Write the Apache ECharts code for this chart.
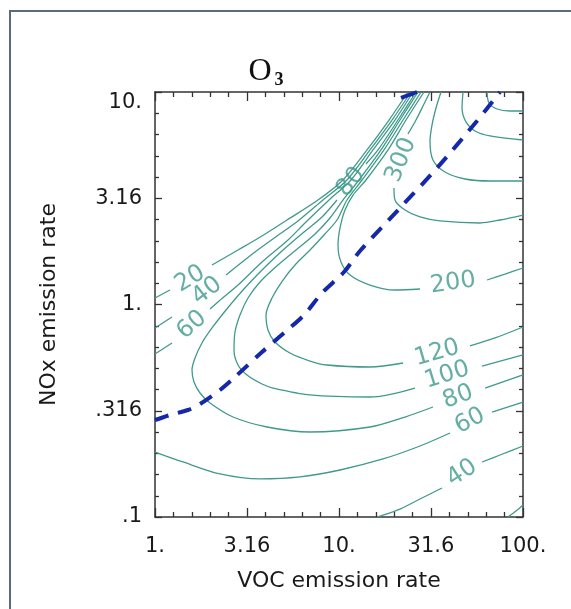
<!DOCTYPE html>
<html><head><meta charset="utf-8">
<script src="https://cdn.jsdelivr.net/npm/echarts@6/dist/echarts.min.js"></script>
<style>html,body{margin:0;padding:0;background:#fff}#c{width:571px;height:609px}</style>
</head><body><div id="c"></div>
<script>
// ---- data (VOC emission rate, NOx emission rate) ----
const xTickLabels = ['1.', '3.16', '10.', '31.6', '100.'];
const yTickLabels = ['.1', '.316', '1.', '3.16', '10.'];

// each contour = list of line pieces (gaps where the level label sits)
const c20 = [
  [[1.00,1.073],[1.206,1.170]],
  [[2.041,1.534],[2.826,1.805],[3.816,2.101],[5.217,2.498],[7.689,3.102],[10.51,3.854],[14.20,5.336],[18.70,7.382],[23.71,10]],
  [[82.89,0.1],[91.62,0.1067],[100,0.1139]]
];
const c40 = [
  [[1.00,0.7753],[1.237,0.8735]],
  [[2.432,1.377],[3.495,1.766],[4.603,2.101],[5.987,2.472],[8.185,3.102],[11.05,3.854],[14.74,5.336],[19.41,7.382],[24.62,10]],
  [[16.09,0.1],[21.45,0.1090],[27.55,0.1215],[36.29,0.1369]],
  [[59.87,0.1815],[74.99,0.1958],[100,0.2158]]
];
const c60 = [
  [[1.00,0.5848],[1.237,0.6590]],
  [[1.991,0.9524],[2.228,1.039],[2.826,1.235],[3.816,1.585],[5.284,2.012],[6.618,2.445],[8.825,3.102],[11.62,3.854],[15.30,5.336],[20.15,7.382],[25.25,10]],
  [[1.00,0.2022],[1.420,0.1815],[2.256,0.1594],[3.722,0.1510],[6.138,0.1543],[10.13,0.1664],[17.34,0.1875],[27.55,0.2158],[40.11,0.2485]],
  [[67.86,0.3119],[100,0.3476]]
];
const c80 = [
  [[26.21,10],[20.92,7.382],[16.29,5.336],[14.02,4.584]],
  [[9.752,3.102],[8.084,2.581],[6.453,2.193],[4.963,1.805],[3.816,1.453],[3.008,1.170],[2.432,0.9421],[2.041,0.7753],[1.800,0.6590],[1.650,0.5600],[1.589,0.4917],[1.629,0.4318],[1.756,0.3833],[1.991,0.3439],[2.654,0.2955],[4.061,0.2652],[6.957,0.2512],[14.74,0.2652],[22.84,0.2955],[32.42,0.3293]],
  [[62.17,0.4045],[100,0.4659]]
];
const c100 = [
  [[26.87,10],[21.45,7.382],[16.91,5.336],[12.84,3.854],[10.51,3.102],[8.935,2.554],[7.313,2.123],[5.839,1.805],[4.663,1.534],[3.722,1.276],[3.202,1.073],[2.897,0.8925],[2.721,0.7424],[2.688,0.6108],[2.826,0.5191],[3.162,0.4659],[3.816,0.4225],[4.380,0.4045],[6.957,0.3752],[14.74,0.3670],[25.88,0.4045]],
  [[59.87,0.5135],[100,0.5786]]
];
const c120 = [
  [[27.91,10],[22.28,7.382],[17.56,5.336],[13.34,3.854],[11.05,3.102],[9.752,2.498],[8.288,2.123],[6.957,1.805],[5.767,1.534],[4.963,1.304],[4.325,1.073],[4.011,0.8925],[4.113,0.7586],[4.489,0.6662],[5.416,0.5912],[6.957,0.5421],[8.608,0.5191],[14.74,0.5080],[22.28,0.5305]],
  [[51.52,0.6379],[70.44,0.6959],[100,0.7837]]
];
const c200 = [
  [[28.97,10],[23.13,7.382],[18.47,5.336],[14.02,3.854],[11.92,3.275],[10.78,2.784],[10.13,2.291],[9.876,1.905],[10.25,1.585],[11.48,1.377],[14.74,1.235],[20.15,1.170],[27.55,1.183]],
  [[63.74,1.304],[79.83,1.391],[100,1.485]]
];
const c300 = [
  [[31.23,10],[28.97,8.781],[26.21,7.382],[23.71,6.345]],
  [[19.90,3.534],[20.15,3.102],[22.84,2.784],[27.55,2.581],[35.39,2.472],[58.39,2.419],[74.99,2.498],[100,2.637]]
];
const c400 = [
  [[35.84,10],[33.67,8.408],[32.02,6.993],[31.23,5.881],[32.42,4.786],[37.68,4.203],[48.41,3.896],[66.18,3.812],[100,3.812]]
];
const c500 = [
  [[47.20,10],[46.63,8.408],[49.02,7.223],[54.84,6.555],[66.18,6.209],[100,5.945]]
];
const c600 = [
  [[63.74,10],[65.36,8.877],[72.23,8.318],[84.99,8.141],[100,8.141]]
];
const ridgeLine = [[1.00,0.2861],[1.206,0.3020],[1.511,0.3188],[1.756,0.3402],[2.256,0.3959],[2.721,0.4559],[3.816,0.5977],[5.024,0.7343],[6.453,0.8925],[8.084,1.133],[10.65,1.422],[13.00,1.786],[21.45,2.846],[34.09,4.389],[56.23,7.302],[74.99,10]];
const ridgeLine2 = [[21.73,9.372],[26.54,10]];

// contour level labels: text, VOC, NOx
const contourLabels = [
  ['20', 1.550, 1.318], ['40', 1.918, 1.157], ['60', 1.589, 0.8009],
  ['80', 11.62, 3.771], ['300', 21.73, 4.786], ['200', 41.66, 1.262],
  ['120', 34.09, 0.5912], ['100', 38.64, 0.4659], ['80', 44.35, 0.3670],
  ['60', 51.52, 0.2830], ['40', 46.63, 0.1611]
];
// ---- styles ----
const labelAngles = [31, 38, 41, 51, 68, 8, 16, 17, 20, 27, 33];
const TEAL = '#3f9a8c';
const FONT = 'DejaVu Sans';

const L = p => [Math.log10(p[0]), Math.log10(p[1])];
const series = [];
[c20, c40, c60, c80, c100, c120, c200, c300, c400, c500, c600].forEach(c => {
  c.forEach(seg => series.push({
    type: 'line', data: seg.map(L), symbol: 'none', smooth: 0.3, silent: true,
    lineStyle: { color: TEAL, width: 1.3 }, z: 2
  }));
});
series.push({
  type: 'line', data: ridgeLine.map(L), symbol: 'none', smooth: 0.3, silent: true,
  lineStyle: { color: '#1428a8', width: 4, type: [14, 10], cap: 'butt' }, z: 4
});
series.push({
  type: 'line', data: ridgeLine2.map(L), symbol: 'none', silent: true,
  lineStyle: { color: '#1428a8', width: 4 }, z: 4
});
series.push({
  type: 'scatter', symbolSize: 1, silent: true, z: 5,
  itemStyle: { color: 'rgba(0,0,0,0)' },
  data: contourLabels.map((l, i) => ({ name: l[0], value: L([l[1], l[2]]), label: { rotate: labelAngles[i] } })),
  label: { show: true, position: 'inside', formatter: p => p.name, fontSize: 24, fontFamily: FONT, color: TEAL }
});

const tickStyle = { color: '#333', width: 1.3 };
const lineStyle = { color: '#333', width: 1.5 };
const xFmt = v => xTickLabels[Math.round(v / 0.5)];
const yFmt = v => {
  const i = Math.round((v + 1) / 0.5);
  return i === 4 ? '{top|' + yTickLabels[i] + '}' : yTickLabels[i];
};
const labelText = { fontSize: 21, fontFamily: FONT, color: '#1a1a1a' };

const option = {
  animation: false,
  backgroundColor: '#fff',
  grid: { left: 155, top: 92, right: 48, bottom: 92, outerBoundsMode: 'none' },
  xAxis: [
    { type: 'value', position: 'bottom', min: 0, max: 2, interval: 0.5,
      splitLine: { show: false }, axisLine: { onZero: false, lineStyle },
      axisTick: { inside: true, length: 9, lineStyle: tickStyle },
      minorTick: { show: true, splitNumber: 5, length: 5, lineStyle: tickStyle },
      axisLabel: Object.assign({ formatter: xFmt, margin: 19 }, labelText),
      name: 'VOC emission rate', nameLocation: 'middle', nameGap: 53,
      nameTextStyle: { fontSize: 22, fontFamily: FONT, color: '#1a1a1a' } },
    { type: 'value', position: 'top', min: 0, max: 2, interval: 0.5,
      splitLine: { show: false }, axisLine: { onZero: false, lineStyle },
      axisTick: { inside: true, length: 9, lineStyle: tickStyle },
      minorTick: { show: true, splitNumber: 5, length: 5, lineStyle: tickStyle },
      axisLabel: { show: false } }
  ],
  yAxis: [
    { type: 'value', position: 'left', min: -1, max: 1, interval: 0.5,
      splitLine: { show: false }, axisLine: { onZero: false, lineStyle },
      axisTick: { inside: true, length: 7, lineStyle: tickStyle },
      minorTick: { show: true, splitNumber: 5, length: 4, lineStyle: tickStyle },
      axisLabel: Object.assign({ formatter: yFmt, margin: 13,
        rich: { top: { fontSize: 21, fontFamily: FONT, color: '#1a1a1a', padding: [22, 0, 0, 0] } } }, labelText),
      name: 'NOx emission rate', nameLocation: 'middle', nameGap: 95,
      nameTextStyle: { fontSize: 22, fontFamily: FONT, color: '#1a1a1a' } },
    { type: 'value', position: 'right', min: -1, max: 1, interval: 0.5,
      splitLine: { show: false }, axisLine: { onZero: false, lineStyle },
      axisTick: { inside: true, length: 7, lineStyle: tickStyle },
      minorTick: { show: true, splitNumber: 5, length: 4, lineStyle: tickStyle },
      axisLabel: { show: false } }
  ],
  graphic: [
    { type: 'rect', shape: { x: 10, y: 11, width: 700, height: 700 }, silent: true,
      style: { fill: 'none', stroke: '#5a6b7c', lineWidth: 2 } },
    { type: 'text', x: 260, y: 72, silent: true,
      style: { text: 'O', fontFamily: 'Liberation Serif', fontSize: 32, fill: '#111', align: 'center', verticalAlign: 'middle' } },
    { type: 'text', x: 279, y: 80, silent: true,
      style: { text: '3', fontFamily: 'Liberation Serif', fontSize: 18, fontWeight: 'bold', fill: '#111', align: 'center', verticalAlign: 'middle' } }
  ],
  series
};
const chart = echarts.init(document.getElementById('c'));
chart.setOption(option);
</script></body></html>
